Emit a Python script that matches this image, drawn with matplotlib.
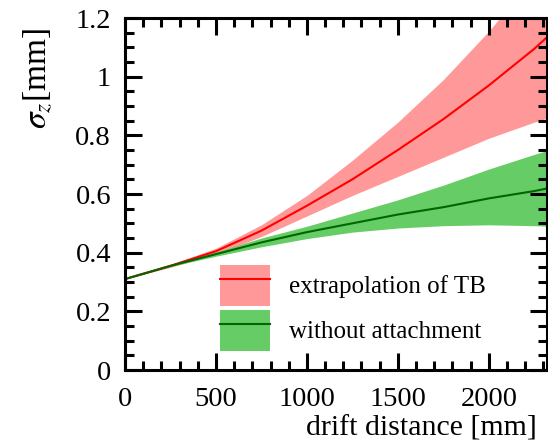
import matplotlib.pyplot as plt
from matplotlib.patches import Patch
from matplotlib.lines import Line2D
from matplotlib.ticker import MultipleLocator

plt.rcParams['font.family'] = ['Liberation Serif', 'DejaVu Serif']
plt.rcParams['mathtext.fontset'] = 'stix'

# drift distance [mm]
dist = [0, 250, 500, 750, 1000, 1250, 1500, 1750, 2000, 2250, 2330]

# extrapolation of TB
tb_mid = [0.31, 0.355, 0.405, 0.475, 0.56, 0.65, 0.75, 0.855, 0.97, 1.095, 1.14]
tb_low = [0.31, 0.35, 0.395, 0.455, 0.525, 0.595, 0.66, 0.725, 0.79, 0.845, 0.86]
tb_high = [0.31, 0.36, 0.415, 0.495, 0.595, 0.715, 0.845, 0.99, 1.155, 1.34, 1.42]

# without attachment
na_mid = [0.31, 0.355, 0.395, 0.435, 0.47, 0.50, 0.53, 0.555, 0.585, 0.61, 0.62]
na_low = [0.31, 0.353, 0.388, 0.42, 0.448, 0.47, 0.484, 0.492, 0.495, 0.492, 0.49]
na_high = [0.31, 0.357, 0.402, 0.45, 0.49, 0.535, 0.58, 0.63, 0.685, 0.735, 0.75]

labels = ['extrapolation of TB', 'without attachment']

fig = plt.figure(figsize=(5.48, 4.44), dpi=100)
ax = fig.add_axes([125 / 548, 74 / 444, 422 / 548, 352 / 444])

ax.fill_between(dist, tb_low, tb_high, color='#ff9999', lw=0)
ax.fill_between(dist, na_low, na_high, color='#66cc66', lw=0)
ax.plot(dist, tb_mid, color='#ff0000', lw=1.5)
ax.plot(dist, na_mid, color='#006600', lw=1.5)

ax.set_xlim(0, 2320)
ax.set_ylim(0, 1.2)
ax.xaxis.set_major_locator(MultipleLocator(500))
ax.xaxis.set_minor_locator(MultipleLocator(100))
ax.yaxis.set_minor_locator(MultipleLocator(0.05))
ax.set_yticks([0, 0.2, 0.4, 0.6, 0.8, 1.0, 1.2])
ax.set_yticklabels(['0', '0.2', '0.4', '0.6', '0.8', '1', '1.2'])

ax.tick_params(which='both', direction='in', top=True, right=True,
               width=2.2, labelsize=20.5)
ax.tick_params(which='major', length=12, pad=10)
ax.tick_params(axis='x', which='major', pad=12)
ax.tick_params(which='minor', length=6.5)
for s in ax.spines.values():
    s.set_linewidth(2.2)

fig.text(537 / 548, 1 - 428 / 444, 'drift distance [mm]', fontsize=21.5,
         ha='right', va='center')
fig.text(38 / 548, 1 - 28 / 444, r'$\sigma_{z}$[mm]', fontsize=24,
         rotation=90, ha='center', va='top')

handles = [(Patch(color='#ff9999', lw=0), Line2D([], [], color='#ff0000', lw=1.5)),
           (Patch(color='#66cc66', lw=0), Line2D([], [], color='#006600', lw=1.5))]
ax.legend(handles, labels, loc='upper left', frameon=False, fontsize=18,
          bbox_to_anchor=(220 / 548, 1 - 265 / 444), bbox_transform=fig.transFigure,
          borderpad=0, borderaxespad=0, handlelength=2.0, handleheight=2.15,
          labelspacing=0.15, handletextpad=0.75)

fig.savefig('out.png', dpi=100)
